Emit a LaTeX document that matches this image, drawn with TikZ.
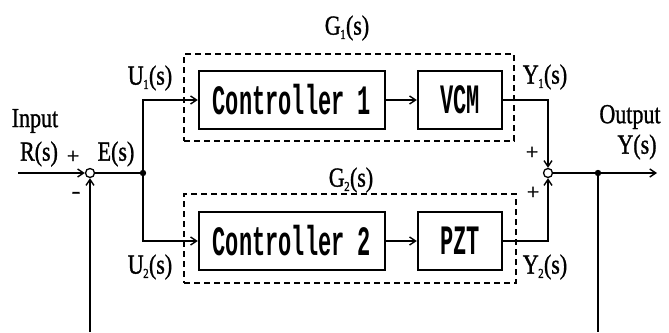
\documentclass[tikz,border=0pt]{standalone}
\usepackage{fontspec}
\setmainfont{Liberation Serif}
\newfontfamily\lblfont{Liberation Serif}[FakeBold=1.2]
\newfontfamily\boxfont{Liberation Mono}
\usetikzlibrary{arrows.meta}
\newcommand{\blocktext}[1]{\scalebox{1}[1.9]{\boxfont\bfseries\fontsize{22}{22}\selectfont #1}}
\newcommand{\lsub}[2]{#1\kern-0.5pt\raisebox{-3.5pt}{\fontsize{11}{11}\selectfont #2}\kern0.3pt}
\newcommand{\tl}[1]{\scalebox{1}[1.25]{#1}}
\begin{document}
\begin{tikzpicture}[x=1pt,y=-1pt,
  block/.style={draw, line width=2.4pt, minimum height=58pt, inner sep=0pt},
  wire/.style={line width=1.6pt},
  arr/.style={wire, -{Straight Barb[length=6pt,width=8pt,line width=1.4pt]}},
  grp/.style={draw, line width=1.3pt, dash pattern=on 6pt off 4pt, inner sep=0pt},
  sumj/.style={circle, draw, line width=1.3pt, minimum size=9pt, inner sep=0pt},
  lab/.style={font=\lblfont\fontsize{22}{22}\selectfont, inner sep=0pt},
  sgn/.style={font=\lblfont\fontsize{22}{22}\selectfont, inner sep=0pt}]
\useasboundingbox (0,0) rectangle (669,332);
% groups
\node[grp, minimum width=330pt, minimum height=87pt] (g1) at (349,97.5) {};
\node[grp, minimum width=332pt, minimum height=89pt] (g2) at (350,238.5) {};
% blocks
\node[block, minimum width=186pt] (c1) at (292,100) {\blocktext{Controller 1}};
\node[block, minimum width=84pt] (vcm) at (460,100) {\blocktext{VCM}};
\node[block, minimum width=186pt] (c2) at (292,241) {\blocktext{Controller 2}};
\node[block, minimum width=84pt] (pzt) at (460,241) {\blocktext{PZT}};
% summing junctions
\node[sumj] (s1) at (90,173) {};
\node[sumj] (s2) at (548,173) {};
% coordinates
\coordinate (in) at (18,173);
\coordinate (br1) at (143,173);
\coordinate (u1c) at (143,100);
\coordinate (u2c) at (143,241);
\coordinate (y1c) at (548,100);
\coordinate (y2c) at (548,241);
\coordinate (br2) at (598,173);
\coordinate (out) at (657,173);
\coordinate (fb1) at (598,332);
\coordinate (fb2) at (90,332);
% connectors
\draw[arr] (in) -- (s1);
\draw[wire] (s1) -- (br1);
\draw[arr] (br1) -- (u1c) -- (c1);
\draw[arr] (br1) -- (u2c) -- (c2);
\draw[arr] (c1) -- (vcm);
\draw[arr] (c2) -- (pzt);
\draw[arr] (vcm) -- (y1c) -- (s2);
\draw[arr] (pzt) -- (y2c) -- (s2);
\draw[arr] (s2) -- (out);
\draw[wire] (br2) -- (fb1);
\draw[arr] (fb2) -- (s1);
\fill (br1) circle (3.2pt);
\fill (br2) circle (3.2pt);
% labels
\node[lab] (tin) at (35,121) {\tl{Input}};
\node[lab] (tr) at (39,154) {\tl{R(s)}};
\node[sgn] (p1) at (73,157) {+};
\node[lab] (te) at (116,154) {\tl{E(s)}};
\node[sgn] (m1) at (76,195) {\scalebox{1.2}[1]{-}};
\node[lab] (tu1) at (150,78) {\tl{\lsub{U}{1}(s)}};
\node[lab] (tu2) at (150,267) {\tl{\lsub{U}{2}(s)}};
\node[lab] (tg1) at (347,28) {\tl{\lsub{G}{1}(s)}};
\node[lab] (tg2) at (351,180) {\tl{\lsub{G}{2}(s)}};
\node[lab] (ty1) at (545,77) {\tl{\lsub{Y}{1}(s)}};
\node[lab] (ty2) at (545,267) {\tl{\lsub{Y}{2}(s)}};
\node[sgn] (p2) at (532,153) {+};
\node[sgn] (p3) at (533,193) {+};
\node[lab] (tout) at (630,117) {\tl{Output}};
\node[lab] (ty) at (637,147) {\tl{Y(s)}};
\end{tikzpicture}
\end{document}
